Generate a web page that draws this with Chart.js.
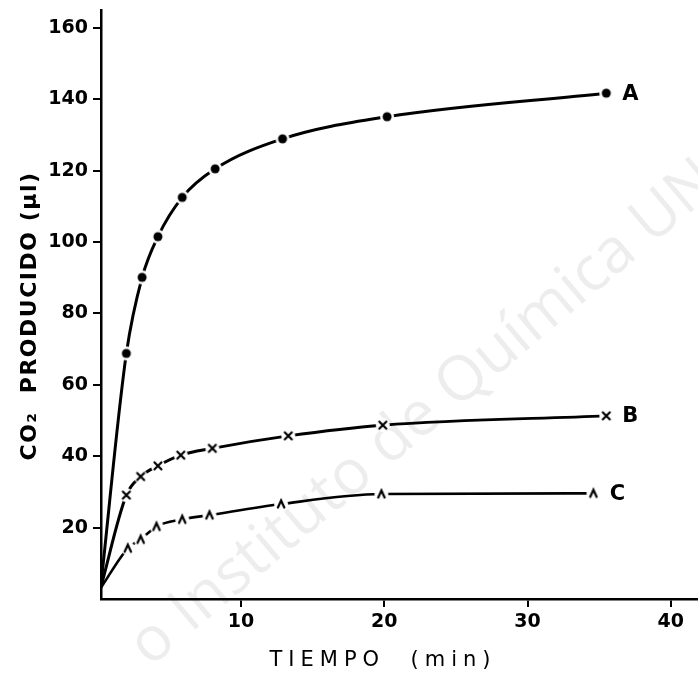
<!DOCTYPE html>
<html>
<head>
<meta charset="utf-8">
<script src="https://cdn.jsdelivr.net/npm/chart.js@4"></script>
<style>
  body { margin: 0; background: #fff; }
  canvas { display: block; }
</style>
</head>
<body>
<canvas id="co2Chart" width="698" height="673"></canvas>
<script>
// CO2 producido (µl) vs tiempo (min), curves A, B, C
const seriesNames = ['A', 'B', 'C'];
const tiempoA = [0.2, 2.0, 3.1, 4.2, 5.9, 8.2, 12.9, 20.2, 35.5];
const co2A = [3, 68.8, 90.1, 101.5, 112.5, 120.5, 128.9, 135.1, 141.7];
const tiempoB = [0.2, 2.0, 3.0, 4.2, 5.8, 8.0, 13.3, 19.9, 35.5];
const co2B = [3, 29.1, 34.3, 37.3, 40.3, 42.2, 45.7, 48.7, 51.3];
const tiempoC = [0.2, 2.1, 3.0, 4.1, 5.9, 7.8, 12.8, 19.8, 34.6];
const co2C = [3, 14.2, 16.7, 20.3, 22.3, 23.5, 26.6, 29.4, 29.6];
const xTicks = [10, 20, 30, 40];
const yTicks = [20, 40, 60, 80, 100, 120, 140, 160];

const toPoints = (xs, ys) => xs.map((x, i) => ({ x: x, y: ys[i] }));

// marker images: white halo so the line breaks around each mark
function makeMarker(kind) {
    const c = document.createElement('canvas');
    c.width = 16; c.height = 16;
    const g = c.getContext('2d');
    g.fillStyle = '#fff';
    g.beginPath(); g.arc(8, 8, 7, 0, Math.PI * 2); g.fill();
    g.fillStyle = '#000';
    g.strokeStyle = '#000';
    g.lineWidth = 2.2;
    g.lineCap = 'round';
    if (kind === 'dot') {
        g.beginPath(); g.arc(8, 8, 4.5, 0, Math.PI * 2); g.fill();
    } else if (kind === 'x') {
        g.beginPath();
        g.moveTo(4.5, 4.5); g.lineTo(11.5, 11.5);
        g.moveTo(11.5, 4.5); g.lineTo(4.5, 11.5);
        g.stroke();
    } else {
        g.beginPath();
        g.moveTo(4.8, 11.5); g.lineTo(8, 4.5); g.lineTo(11.2, 11.5);
        g.stroke();
    }
    return c;
}

const markers = [makeMarker('dot'), makeMarker('x'), makeMarker('caret')];

function dataset(xs, ys, i, width) {
    return {
        label: seriesNames[i],
        data: toPoints(xs, ys),
        borderColor: '#000',
        borderWidth: width,
        cubicInterpolationMode: 'monotone',
        pointStyle: markers[i],
        pointRadius: ctx => ctx.dataIndex === 0 ? 0 : 5,
        fill: false
    };
}

const watermark = {
    id: 'watermark',
    beforeDraw(chart) {
        const ctx = chart.ctx;
        ctx.save();
        ctx.translate(150, 668);
        ctx.rotate(-0.70);
        ctx.font = '62px "Open Sans"';
        ctx.fillStyle = 'rgba(0,0,0,0.07)';
        ctx.fillText('o Instituto de Química UNAM', 0, 0);
        ctx.restore();
    }
};

const labelsAndTitles = {
    id: 'labelsAndTitles',
    afterDraw(chart) {
        const ctx = chart.ctx;
        ctx.save();
        ctx.fillStyle = '#000';
        // series letters at the end of each curve
        ctx.font = 'bold 21px "DejaVu Sans"';
        ctx.textAlign = 'center';
        ctx.textBaseline = 'middle';
        chart.data.datasets.forEach((ds, i) => {
            const pts = chart.getDatasetMeta(i).data;
            const p = pts[pts.length - 1];
            ctx.fillText(seriesNames[i], p.x + 24, p.y + 1);
        });
        // x title
        ctx.font = '21px "DejaVu Sans"';
        ctx.letterSpacing = '6px';
        ctx.fillText('TIEMPO  (min)', 383, 661);
        // y title
        ctx.letterSpacing = '1.5px';
        ctx.font = 'bold 22px "DejaVu Sans"';
        ctx.translate(30, 316);
        ctx.rotate(-Math.PI / 2);
        ctx.fillText('CO₂  PRODUCIDO (µl)', 0, 0);
        ctx.restore();
    }
};

const tickFont = { family: 'DejaVu Sans', weight: 'bold', size: 19 };

new Chart(document.getElementById('co2Chart'), {
    type: 'line',
    data: {
        datasets: [
            dataset(tiempoA, co2A, 0, 3),
            dataset(tiempoB, co2B, 1, 3),
            dataset(tiempoC, co2C, 2, 2.6)
        ]
    },
    options: {
        responsive: false,
        animation: false,
        layout: { autoPadding: false, padding: { top: 10, right: 0, left: 0, bottom: 0 } },
        plugins: { legend: { display: false }, tooltip: { enabled: false } },
        scales: {
            x: {
                type: 'linear',
                min: 0.23,
                max: 41.9,
                afterBuildTicks: s => { s.ticks = xTicks.map(v => ({ value: v })); },
                afterFit: s => { s.height = 74; s.paddingLeft = 0; s.paddingRight = 0; },
                grid: { drawOnChartArea: false, drawTicks: true, tickLength: 8, color: '#000', lineWidth: 2 },
                border: { color: '#000', width: 2.5 },
                ticks: { color: '#000', font: tickFont, padding: 4, maxRotation: 0 }
            },
            y: {
                min: 0,
                max: 165,
                afterBuildTicks: s => { s.ticks = yTicks.map(v => ({ value: v })); },
                afterFit: s => { s.width = 101; s.paddingTop = 0; s.paddingBottom = 0; },
                grid: { drawOnChartArea: false, drawTicks: true, tickLength: 8, color: '#000', lineWidth: 2 },
                border: { color: '#000', width: 2.5 },
                ticks: { color: '#000', font: tickFont, padding: 5 }
            }
        }
    },
    plugins: [watermark, labelsAndTitles]
});
</script>
</body>
</html>
